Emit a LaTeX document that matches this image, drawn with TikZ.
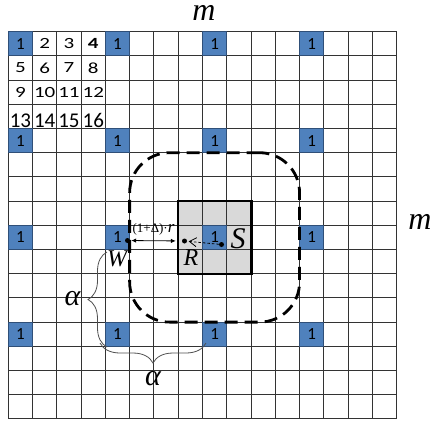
\documentclass[tikz,border=0pt]{standalone}
\usepackage{fontspec}
\setmainfont{Liberation Serif}
\newfontfamily\calib{Carlito}
\usetikzlibrary{decorations.pathreplacing,arrows.meta}
\definecolor{cellblue}{HTML}{4F81BD}
\definecolor{cellborder}{HTML}{2F4F78}
\definecolor{sgray}{HTML}{D9D9D9}
\definecolor{bracegray}{HTML}{505050}
\begin{document}
\begin{tikzpicture}[x=1pt,y=-1pt,
  gridline/.style={draw=black!80,line width=0.9pt},
  bluecell/.style={draw=cellborder,fill=cellblue,line width=0.9pt,inner sep=0pt,
    minimum width=24.27pt,minimum height=24.2pt,
    font=\calib\fontsize{17}{17}\selectfont},
  digit/.style={inner sep=0pt,font=\calib\fontsize{21}{21}\selectfont},
  sbox/.style={fill=sgray,inner sep=0pt,minimum width=72.81pt,minimum height=72.6pt},
  sborder/.style={draw=black,line width=2.8pt},
  zone/.style={draw=black,line width=2.8pt,dash pattern=on 13pt off 7pt,
    rounded corners=40pt,inner sep=0pt,minimum width=169.9pt,minimum height=169.4pt},
  bigletter/.style={inner sep=0pt,font=\itshape\fontsize{30}{30}\selectfont},
  midletter/.style={inner sep=0pt,font=\itshape\fontsize{24}{24}\selectfont},
  mletter/.style={inner sep=0pt,anchor=base,font=\itshape\fontsize{32}{32}\selectfont},
  dotnode/.style={circle,fill=black,inner sep=0pt,minimum size=5pt},
  bracestyle/.style={draw=bracegray,line width=0.8pt,decorate},
  ]
\useasboundingbox (0,0) rectangle (435,424);
\def\gx{8.3}\def\gy{31.7}\def\cw{24.27}\def\ch{24.2}
% shaded S region
\node[sbox] (sfill) at ({\gx+8.5*\cw},{\gy+8.5*\ch}) {};
% grid
\foreach \i in {0,...,16}{
  \draw[gridline] ({\gx+\i*\cw},\gy) -- ({\gx+\i*\cw},{\gy+16*\ch});
  \draw[gridline] (\gx,{\gy+\i*\ch}) -- ({\gx+16*\cw},{\gy+\i*\ch});
}
% blue cells
\foreach \r in {0,4,8,12}{
  \foreach \c in {0,4,8,12}{
    \node[bluecell] (b-\r-\c) at ({\gx+(\c+0.5)*\cw},{\gy+(\r+0.5)*\ch}) {1};
  }
}
% numbers
\foreach \t/\c/\r in {2/1/0,3/2/0,5/0/1,6/1/1,7/2/1,8/3/1,9/0/2,10/1/2,11/2/2,12/3/2}{
  \node[digit] (n\t) at ({\gx+(\c+0.5)*\cw},{\gy+(\r+0.5)*\ch}) {\scalebox{1}[0.74]{\t}};
}
\node[digit] (n4) at ({\gx+3.5*\cw},{\gy+0.5*\ch}) {\scalebox{1}[0.74]{\bfseries 4}};
\foreach \t/\c in {13/0,14/1,15/2,16/3}{
  \node[digit] (n\t) at ({\gx+(\c+0.5)*\cw},{\gy+3.5*\ch+4}) {\t};
}
% S border
\draw[sborder] (sfill.north west) rectangle (sfill.south east);
% dashed zone
\node[zone] (zone) at ({\gx+8.5*\cw},{\gy+8.5*\ch}) {};
% labels m
\node[mletter] (mtop) at (204,20) {m};
\node[mletter] (mright) at (420,229) {m};
% points
\node[dotnode] (wdot) at (127.5,240.5) {};
\node[dotnode] (rdot) at (184.5,241) {};
\node[dotnode] (sdot) at (221.5,244.5) {};
\draw[line width=0.8pt,{Latex[length=5pt,width=4.5pt]}-{Latex[length=5pt,width=4.5pt]},shorten <=1pt,shorten >=6pt] (wdot) -- (rdot);
\node[inner sep=0pt] (dlabel) at (153.5,229) {\fontsize{13}{13}\selectfont(1+Δ)·{\itshape\fontsize{17}{17}\selectfont r}};
\draw[line width=0.8pt,dash pattern=on 2.5pt off 2pt,-{Straight Barb[length=7pt,width=9pt]},shorten >=1.5pt] (sdot) -- (rdot);
% letters
\node[bigletter] (Slab) at (238,239) {S};
\node[midletter] (Rlab) at (191,258) {R};
\node[midletter] (Wlab) at (117,259) {W};
% braces
\coordinate (vb1) at (107,252);
\coordinate (vb2) at (107,347);
\coordinate (hb1) at (100,343);
\coordinate (hb2) at (206,343);
\draw[bracestyle,decoration={brace,amplitude=19pt,mirror}] (vb1) -- (vb2);
\draw[bracestyle,decoration={brace,amplitude=20pt,mirror}] (hb1) -- (hb2);
\node[bigletter] (a1) at (72.5,299) {α};
\node[bigletter] (a2) at (153,379) {α};
\end{tikzpicture}
\end{document}
